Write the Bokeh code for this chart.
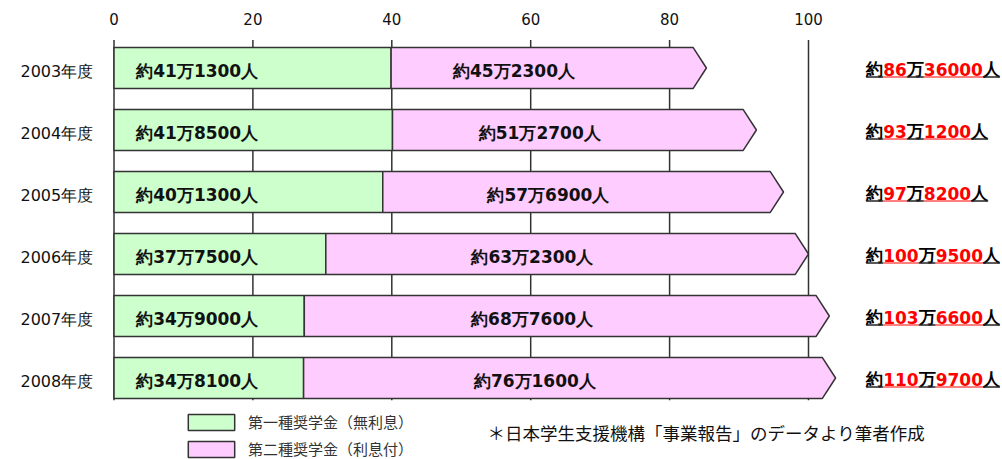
from bokeh.plotting import figure
from bokeh.models import Range1d, FixedTicker, ColumnDataSource, Legend, LegendItem, Label
from bokeh.core.properties import value
from bokeh.embed import file_html
from bokeh.resources import INLINE

# ---------------- data (万人) ----------------
years = ["2003年度", "2004年度", "2005年度", "2006年度", "2007年度", "2008年度"]
first_type = [39.9, 40.1, 38.7, 30.5, 27.4, 27.3]        # 第一種 bar length as drawn
bar_total = [85.3, 92.5, 96.4, 100.0, 103.0, 103.9]      # end of 第二種 arrow as drawn
first_labels = ["約41万1300人", "約41万8500人", "約40万1300人",
                "約37万7500人", "約34万9000人", "約34万8100人"]
second_labels = ["約45万2300人", "約51万2700人", "約57万6900人",
                 "約63万2300人", "約68万7600人", "約76万1600人"]
total_man = ["86", "93", "97", "100", "103", "110"]
total_rest = ["36000", "1200", "8200", "9500", "6600", "9700"]
x_ticks = [0, 20, 40, 60, 80, 100]
legend_labels = ["第一種奨学金（無利息）", "第二種奨学金（利息付）"]
note = "＊日本学生支援機構「事業報告」のデータより筆者作成"

# ---------------- layout ----------------
W, H = 1002, 459
TOP = 37
PXU = 6.945          # px per 万人
X0 = 113.5           # px of value 0
ROW = 62.0           # px per row
ROW0 = 67.5          # px of first row center

GREEN = "#CCFFCC"
PINK = "#FFCCFF"
EDGE = "#333333"
BAR_H = 0.66
ARROW = 1.9

def dx(px):
    return px / PXU

x_start = -X0 / PXU
x_end = (W - X0) / PXU
y_top = (TOP - ROW0) / ROW
y_bottom = (H - ROW0) / ROW

p = figure(width=W, height=H, x_range=Range1d(x_start, x_end),
           y_range=Range1d(y_bottom, y_top),
           x_axis_location="above", y_axis_location=None,
           output_backend="svg", toolbar_location=None,
           min_border_left=0, min_border_right=0, min_border_bottom=0,
           min_border_top=TOP)
p.outline_line_color = None
p.background_fill_color = "white"
p.border_fill_color = "white"
p.xgrid.visible = False
p.ygrid.visible = False

ax = p.xaxis[0]
ax.ticker = FixedTicker(ticks=x_ticks)
ax.axis_line_color = None
ax.major_tick_line_color = None
ax.minor_tick_line_color = None
ax.major_label_standoff = 7
ax.major_label_text_font = "DejaVu Sans"
ax.major_label_text_font_size = "15px"
ax.major_label_text_color = "#111111"

idx = list(range(len(years)))

# vertical grid lines behind bars
p.segment(x0=x_ticks, x1=x_ticks, y0=[-0.45] * len(x_ticks), y1=[5.36] * len(x_ticks),
          line_color=EDGE, line_width=1.5)

# first type bars
g = p.hbar(y=idx, left=0, right=first_type, height=BAR_H,
           fill_color=GREEN, line_color=EDGE, line_width=1.5)

# second type arrows
xs, ys = [], []
for i, (f, t) in enumerate(zip(first_type, bar_total)):
    xs.append([f, t - ARROW, t, t - ARROW, f])
    ys.append([i - BAR_H / 2, i - BAR_H / 2, i, i + BAR_H / 2, i + BAR_H / 2])
pk = p.patches(xs=xs, ys=ys, fill_color=PINK, line_color=EDGE, line_width=1.5)

BOLD_FONT = value("DejaVu Sans")

# labels inside bars
p.text(x=[3.2] * len(idx), y=idx, text=first_labels, text_align="left",
       text_baseline="middle", y_offset=3, text_font=BOLD_FONT,
       text_font_style="bold", text_font_size="17px", text_color="#111111")
mid2 = [(f + t) / 2 - 5 for f, t in zip(first_type, bar_total)]
p.text(x=mid2, y=idx, text=second_labels, text_align="center",
       text_baseline="middle", y_offset=3, text_font=BOLD_FONT,
       text_font_style="bold", text_font_size="17px", text_color="#111111")

# year labels
p.text(x=[-3.0] * len(idx), y=idx, text=years, text_align="right",
       text_baseline="middle", y_offset=3, text_font=value("DejaVu Sans"),
       text_font_size="16px", text_color="#111111")

# totals on the right: mixed colours + underline
FS = 17
CJK_W = FS * 1.0
DIG_W = FS * 0.696
RSTART = 108.3
tx, ty, toff, ttext, tcol = [], [], [], [], []
ux0, ux1, uy, ucol = [], [], [], []
for i in idx:
    parts = [("約", "#000000"), (total_man[i], "#FF0000"), ("万", "#000000"),
             (total_rest[i], "#FF0000"), ("人", "#000000")]
    off = 0.0
    for s, c in parts:
        w = sum(DIG_W if ch.isdigit() else CJK_W for ch in s)
        tx.append(RSTART); ty.append(i); toff.append(off); ttext.append(s); tcol.append(c)
        ux0.append(RSTART + dx(off)); ux1.append(RSTART + dx(off + w))
        uy.append(i + 9 / ROW); ucol.append("#222222" if c == "#000000" else "#FF5555")
        off += w
src = ColumnDataSource(dict(x=tx, y=ty, xo=toff, text=ttext, color=tcol))
p.text(x="x", y="y", x_offset="xo", text="text", text_color="color", source=src,
       text_align="left", text_baseline="middle", y_offset=1, text_font=BOLD_FONT,
       text_font_style="bold", text_font_size=f"{FS}px")
p.segment(x0=ux0, x1=ux1, y0=uy, y1=uy, line_color=ucol, line_width=1.5)

# legend
legend = Legend(items=[LegendItem(label=legend_labels[0], renderers=[g]),
                       LegendItem(label=legend_labels[1], renderers=[pk])],
                location=(182, 0), orientation="vertical",
                glyph_width=58, glyph_height=20, label_height=20, spacing=6,
                label_standoff=8, padding=0, margin=0,
                border_line_color=None, background_fill_alpha=0,
                label_text_font="Noto Sans CJK JP", label_text_font_size="15px",
                label_text_color="#333333")
p.add_layout(legend)

# source note
p.add_layout(Label(x=(487 - X0) / PXU, y=(432 - ROW0) / ROW, text=note,
                   text_baseline="middle", text_align="left",
                   text_font="Noto Sans CJK JP", text_font_size="17.5px",
                   text_color="#111111"))

open("out.html", "w").write(file_html(p, INLINE))
